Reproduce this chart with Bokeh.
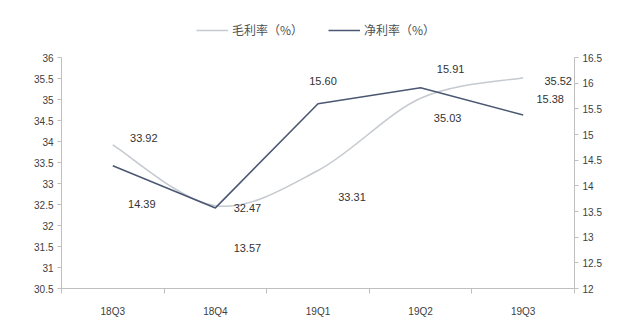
from bokeh.plotting import figure
from bokeh.models import (Range1d, LinearAxis, FixedTicker, Legend, LegendItem)
from bokeh.core.properties import value
from bokeh.embed import file_html
from bokeh.resources import INLINE

categories = ["18Q3", "18Q4", "19Q1", "19Q2", "19Q3"]
gross_margin = [33.92, 32.47, 33.31, 35.03, 35.52]
net_margin = [14.39, 13.57, 15.60, 15.91, 15.38]
gross_name = "毛利率（%）"
net_name = "净利率（%）"
left_ticks = [30.5, 31, 31.5, 32, 32.5, 33, 33.5, 34, 34.5, 35, 35.5, 36]
right_ticks = [12, 12.5, 13, 13.5, 14, 14.5, 15, 15.5, 16, 16.5]

# label offsets (screen px) - styling only
gross_dx = [31, 32, 34, 27, 35]
gross_dy = [-7, 2, 27, 20, 3]
net_dx = [29, 32, 5, 30, 27]
net_dy = [38, 40, -23, -19, -16]

GROSS_COLOR = "#c5cad0"
NET_COLOR = "#4b5873"
AXIS_COLOR = "#bfbfbf"
TICK_TEXT = "#404040"
FONT = "Liberation Sans"

# layout: axes span 231 px (y=57..288); frame extends up to y=15 for the legend
AXIS_PX = 231
FRAME_PX = 273
left_end = left_ticks[0] + (left_ticks[-1] - left_ticks[0]) * FRAME_PX / AXIS_PX
right_end = right_ticks[0] + (right_ticks[-1] - right_ticks[0]) * FRAME_PX / AXIS_PX

xs = list(range(len(categories)))

p = figure(width=629, height=327, output_backend="svg", toolbar_location=None,
           x_range=Range1d(-0.5, len(categories) - 0.5),
           y_range=Range1d(left_ticks[0], left_end),
           min_border_left=61, min_border_right=55, min_border_top=15,
           min_border_bottom=39, outline_line_color=None,
           x_axis_location=None, y_axis_location=None)
p.grid.visible = False
p.background_fill_color = "white"
p.border_fill_color = "white"
p.extra_y_ranges = {"net": Range1d(right_ticks[0], right_end)}

# smooth gross line (Excel-like smoothing via cubic bezier segments)
n = len(xs)
x0, y0, x1, y1, cx0, cy0, cx1, cy1 = [], [], [], [], [], [], [], []
for i in range(n - 1):
    pm = (xs[max(i - 1, 0)], gross_margin[max(i - 1, 0)])
    pa = (xs[i], gross_margin[i])
    pb = (xs[i + 1], gross_margin[i + 1])
    pp = (xs[min(i + 2, n - 1)], gross_margin[min(i + 2, n - 1)])
    x0.append(pa[0]); y0.append(pa[1]); x1.append(pb[0]); y1.append(pb[1])
    cx0.append(pa[0] + (pb[0] - pm[0]) / 6); cy0.append(pa[1] + (pb[1] - pm[1]) / 6)
    cx1.append(pb[0] - (pp[0] - pa[0]) / 6); cy1.append(pb[1] - (pp[1] - pa[1]) / 6)
gross_r = p.bezier(x0=x0, y0=y0, x1=x1, y1=y1, cx0=cx0, cy0=cy0, cx1=cx1, cy1=cy1,
                   line_color=GROSS_COLOR, line_width=1.6)

net_r = p.line(xs, net_margin, line_color=NET_COLOR, line_width=1.6, y_range_name="net")

# data labels
p.text(x=xs, y=gross_margin, text=[f"{v:.2f}" for v in gross_margin],
       x_offset=gross_dx, y_offset=gross_dy, text_align="center",
       text_baseline="middle", text_font=value(FONT), text_font_size="11px",
       text_color="#333333")
p.text(x=xs, y=net_margin, text=[f"{v:.2f}" for v in net_margin],
       x_offset=net_dx, y_offset=net_dy, text_align="center",
       text_baseline="middle", text_font=value(FONT), text_font_size="11px",
       text_color="#333333", y_range_name="net")

def style_axis(ax):
    ax.axis_line_color = AXIS_COLOR
    ax.major_tick_line_color = AXIS_COLOR
    ax.minor_tick_line_color = AXIS_COLOR
    ax.major_tick_in = 0
    ax.major_tick_out = 4
    ax.minor_tick_in = 0
    ax.minor_tick_out = 0
    ax.major_label_text_font = FONT
    ax.major_label_text_font_size = "10px"
    ax.major_label_text_color = TICK_TEXT
    ax.major_label_standoff = 4

ly = LinearAxis(ticker=FixedTicker(ticks=left_ticks),
                bounds=(left_ticks[0], left_ticks[-1]))
style_axis(ly)
p.add_layout(ly, "left")

ry = LinearAxis(ticker=FixedTicker(ticks=right_ticks), y_range_name="net",
                bounds=(right_ticks[0], right_ticks[-1]))
style_axis(ry)
p.add_layout(ry, "right")

bx = LinearAxis(ticker=FixedTicker(ticks=xs,
                                   minor_ticks=[i - 0.5 for i in range(n + 1)]))
style_axis(bx)
bx.major_tick_out = 0
bx.minor_tick_out = 5
bx.major_label_standoff = 12
bx.major_label_overrides = {i: c for i, c in enumerate(categories)}
p.add_layout(bx, "below")

legend = Legend(items=[LegendItem(label=gross_name, renderers=[gross_r]),
                       LegendItem(label=net_name, renderers=[net_r])],
                orientation="horizontal", location=(135, 250),
                label_text_font="Noto Sans CJK SC", label_text_font_size="12px",
                label_text_color="#505050", glyph_width=32, glyph_height=10,
                label_width=76, spacing=20, padding=4, margin=0,
                border_line_color=None, background_fill_alpha=0,
                label_standoff=4)
p.add_layout(legend, "center")

open("out.html", "w").write(file_html(p, INLINE))
